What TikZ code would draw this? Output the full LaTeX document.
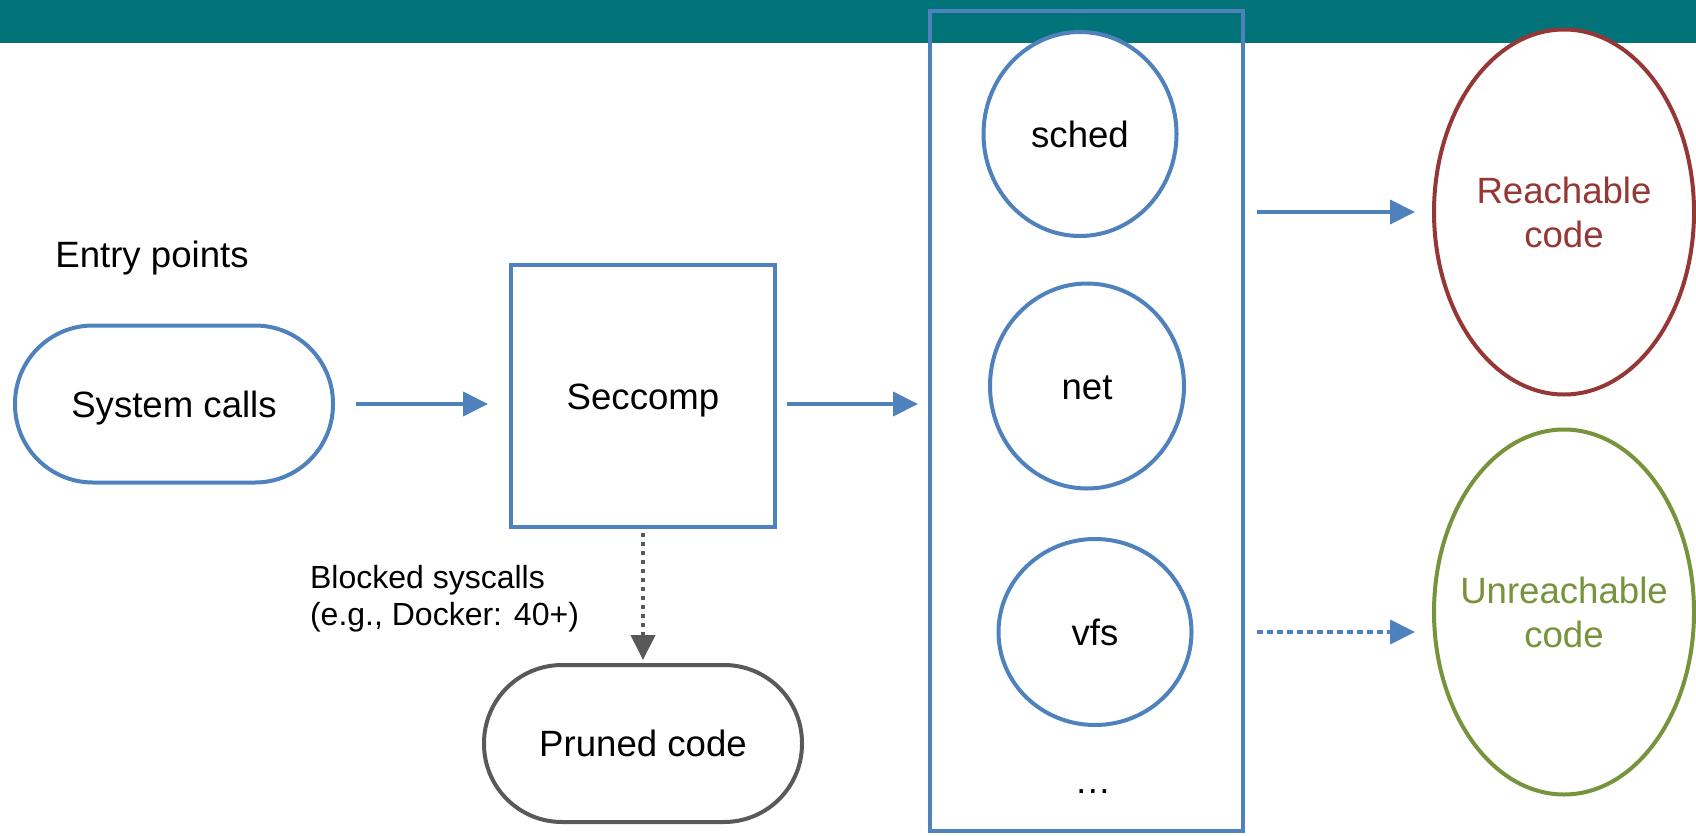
\documentclass[tikz,border=0pt]{standalone}
\usepackage{fontspec}
\setmainfont{Liberation Sans}
\usetikzlibrary{positioning,shapes.geometric,arrows.meta}

\definecolor{slideteal}{RGB}{3,115,122}
\definecolor{boxblue}{RGB}{79,129,189}
\definecolor{reachred}{RGB}{149,55,53}
\definecolor{unreachgreen}{RGB}{119,147,60}
\definecolor{prunedgray}{RGB}{89,89,89}

\tikzset{
  oneline/.style={text height=15pt, text depth=2pt},
  pill/.style={oneline, draw=boxblue, line width=2pt, fill=white, rounded corners=39pt,
    minimum width=159pt, minimum height=78.5pt, inner sep=0pt},
  filterbox/.style={oneline, draw=boxblue, line width=2pt, fill=white, rectangle,
    minimum width=132pt, minimum height=131pt, inner sep=0pt},
  subsys/.style={oneline, draw=boxblue, line width=2pt, fill=white, ellipse, inner sep=0pt},
  outcome/.style={line width=2pt, fill=white, ellipse, inner ysep=0pt, inner xsep=-10pt,
    align=center, minimum width=130pt, minimum height=182.5pt},
  flow/.style={draw=boxblue, line width=2pt, -{Triangle[length=12.5pt, width=12pt]}},
  flowdotted/.style={flow, dash pattern=on 3pt off 2pt},
  prune/.style={draw=prunedgray, line width=2pt, dash pattern=on 2pt off 2.5pt,
    -{Triangle[length=12.5pt, width=12pt, fill=prunedgray]}}
}

\begin{document}
\begin{tikzpicture}[x=0.5pt, y=0.5pt, font=\fontsize{18.3pt}{22pt}\selectfont]
  \useasboundingbox (0,0) rectangle (1696,-835);
  \fill[slideteal] (0,0) rectangle (1696,-43);

  % Nodes
  \node (entry) [oneline] at (152,-254) {Entry points};
  \node (sys) [pill] at (174,-404) {System calls};
  \node (seccomp) [filterbox] at (643,-396) {Seccomp};
  \node (pruned) [pill, draw=prunedgray, below=67pt of seccomp] {Pruned code};
  \node (blocked) [anchor=east, align=left, font=\fontsize{16pt}{18.5pt}\selectfont]
    at (586,-599) {Blocked syscalls\\(e.g., Docker: 40+)};

  \node (kernel) [draw=boxblue, line width=2pt, rectangle, inner sep=0pt,
    minimum width=156.5pt, minimum height=410pt] at (1086.5,-421) {};
  \node (sched) [subsys, minimum width=96.5pt, minimum height=102pt] at (1080,-134) {sched};
  \node (net) [subsys, minimum width=97pt, minimum height=102.5pt] at (1087,-386) {net};
  \node (vfs) [subsys, minimum width=96.5pt, minimum height=93pt] at (1095,-632) {vfs};
  \node (more) [oneline] at (1093,-780) {…};

  \node (reach) [outcome, draw=reachred, text=reachred] at (1564,-212) {Reachable\\code};
  \node (unreach) [outcome, draw=unreachgreen, text=unreachgreen] at (1564,-612) {Unreachable\\code};

  % Arrows
  \draw[flow, shorten <=10.5pt, shorten >=10.5pt] (sys.east) -- (sys.east -| seccomp.west);
  \draw[flow, shorten <=5pt, shorten >=5pt] ([yshift=-4pt]seccomp.east) -- ([yshift=-4pt]seccomp.east -| kernel.west);
  \draw[prune, shorten <=2pt, shorten >=1.5pt] (seccomp.south) -- (pruned.north);
  \draw[flow, shorten <=6pt, shorten >=8.5pt] (kernel.east |- reach) -- (reach.west);
  \draw[flowdotted, shorten <=6pt, shorten >=8.5pt] (kernel.east |- vfs) -- (unreach.west |- vfs);

\end{tikzpicture}
\end{document}
